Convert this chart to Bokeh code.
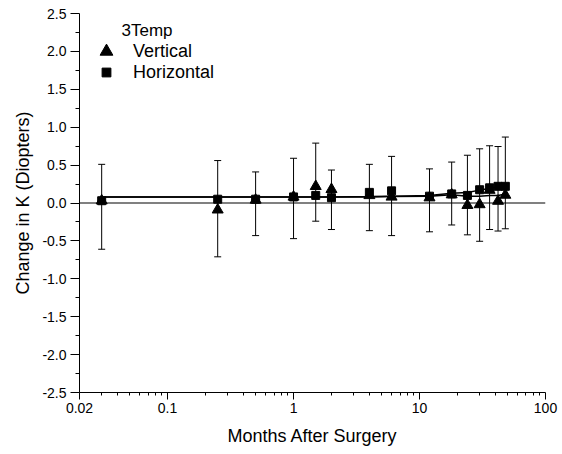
from bokeh.plotting import figure
from bokeh.models import (ColumnDataSource, Whisker, TeeHead, Span, FixedTicker,
                          PrintfTickFormatter, Legend, LegendItem, Label)
from bokeh.embed import file_html
from bokeh.resources import INLINE

# ---- data ----
months = [0.03, 0.25, 0.5, 1, 1.5, 2, 4, 6, 12, 18, 24, 30, 36, 42, 48]
vertical = [0.03, -0.09, 0.04, 0.08, 0.22, 0.18, 0.10, 0.08, 0.07, 0.11, -0.03, -0.02, 0.17, 0.025, 0.105]
horizontal = [0.03, 0.05, 0.05, 0.08, 0.10, 0.07, 0.14, 0.16, 0.09, 0.12, 0.10, 0.175, 0.20, 0.22, 0.22]
err_high = [0.51, 0.56, 0.41, 0.59, 0.79, 0.435, 0.51, 0.615, 0.45, 0.54, 0.63, 0.715, 0.755, 0.745, 0.87]
err_low = [-0.61, -0.71, -0.43, -0.47, -0.24, -0.35, -0.365, -0.43, -0.38, -0.29, -0.42, -0.505, -0.35, -0.37, -0.34]
fit_vertical = [0.08, 0.08, 0.08, 0.08, 0.08, 0.08, 0.08, 0.085, 0.09, 0.11, 0.09, 0.09, 0.10, 0.10, 0.12]
fit_horizontal = [0.08, 0.08, 0.08, 0.08, 0.08, 0.08, 0.085, 0.09, 0.10, 0.13, 0.14, 0.17, 0.19, 0.21, 0.22]

x_ticks = [0.02, 0.1, 1, 10, 100]
x_tick_labels = ["0.02", "0.1", "1", "10", "100"]
x_minor = [0.03, 0.04, 0.05, 0.06, 0.07, 0.08, 0.09,
           0.2, 0.3, 0.4, 0.5, 0.6, 0.7, 0.8, 0.9,
           2, 3, 4, 5, 6, 7, 8, 9,
           20, 30, 40, 50, 60, 70, 80, 90]
y_ticks = [-2.5, -2.0, -1.5, -1.0, -0.5, 0.0, 0.5, 1.0, 1.5, 2.0, 2.5]
y_minor = [-2.25, -1.75, -1.25, -0.75, -0.25, 0.25, 0.75, 1.25, 1.75, 2.25]

FONT = "Liberation Sans"

p = figure(width=560, height=452, x_axis_type="log",
           x_range=(0.02, 100), y_range=(-2.5, 2.5),
           output_backend="svg", toolbar_location=None,
           min_border_left=79, min_border_right=15, min_border_top=13, min_border_bottom=60)
p.outline_line_color = None
p.grid.visible = False
p.background_fill_color = "white"
p.border_fill_color = "white"

# axes
p.xaxis.ticker = FixedTicker(ticks=x_ticks, minor_ticks=x_minor)
p.xaxis.major_label_overrides = {t: l for t, l in zip(x_ticks, x_tick_labels)}
p.yaxis.ticker = FixedTicker(ticks=y_ticks, minor_ticks=y_minor)
p.yaxis.formatter = PrintfTickFormatter(format="%.1f")
for ax in (p.xaxis, p.yaxis):
    ax.axis_line_color = "black"
    ax.axis_line_width = 1
    ax.major_tick_line_color = "black"
    ax.minor_tick_line_color = "black"
    ax.major_tick_in = 0
    ax.minor_tick_in = 0
    ax.major_label_text_font = FONT
    ax.major_label_text_font_size = "14px"
    ax.major_label_text_color = "black"
    ax.axis_label_text_font = FONT
    ax.axis_label_text_font_size = "18px"
    ax.axis_label_text_font_style = "normal"
    ax.axis_label_text_color = "black"
p.xaxis.major_tick_out = 7
p.xaxis.minor_tick_out = 3
p.xaxis.major_label_standoff = 3
p.xaxis.axis_label_standoff = 10
p.xaxis.axis_label = "Months After Surgery"
p.yaxis.major_tick_out = 9
p.yaxis.minor_tick_out = 4
p.yaxis.major_label_standoff = 4
p.yaxis.axis_label_standoff = 6
p.yaxis.axis_label = "Change in K (Diopters)"

# zero line
p.add_layout(Span(location=0, dimension="width", line_color="#808080",
                  line_width=2, level="underlay"))

src = ColumnDataSource(dict(months=months, vertical=vertical, horizontal=horizontal,
                            hi=err_high, lo=err_low,
                            fv=fit_vertical, fh=fit_horizontal))

# error bars
p.add_layout(Whisker(source=src, base="months", upper="hi", lower="lo",
                     dimension="height", line_color="black", line_width=1,
                     upper_head=TeeHead(size=7, line_color="black", line_width=1),
                     lower_head=TeeHead(size=7, line_color="black", line_width=1),
                     level="underlay"))

# fitted lines
p.line("months", "fv", source=src, line_color="black", line_width=1.5)
p.line("months", "fh", source=src, line_color="black", line_width=1.5)

# markers
r_v = p.scatter("months", "vertical", source=src, marker="triangle", size=11,
                fill_color="black", line_color="black")
r_h = p.scatter("months", "horizontal", source=src, marker="square", size=8,
                fill_color="black", line_color="black")

# legend (two single-item legends to match marker sizes)
leg1 = Legend(items=[LegendItem(label="Vertical", renderers=[r_v])],
              location=(11, 325), padding=0, margin=0, spacing=0,
              glyph_width=32, glyph_height=32, label_standoff=11,
              label_text_font=FONT, label_text_font_size="18px", label_text_color="black",
              border_line_color=None, background_fill_alpha=0)
leg2 = Legend(items=[LegendItem(label="Horizontal", renderers=[r_h])],
              location=(16, 309), padding=0, margin=0, spacing=0,
              glyph_width=22, glyph_height=22, label_standoff=16,
              label_text_font=FONT, label_text_font_size="18px", label_text_color="black",
              border_line_color=None, background_fill_alpha=0)
p.add_layout(leg1)
p.add_layout(leg2)
p.add_layout(Label(x=42, y=362, x_units="screen", y_units="screen", text="3Temp",
                   text_font=FONT, text_font_size="17px", text_color="black",
                   text_baseline="alphabetic"))

open("out.html", "w").write(file_html(p, INLINE))
